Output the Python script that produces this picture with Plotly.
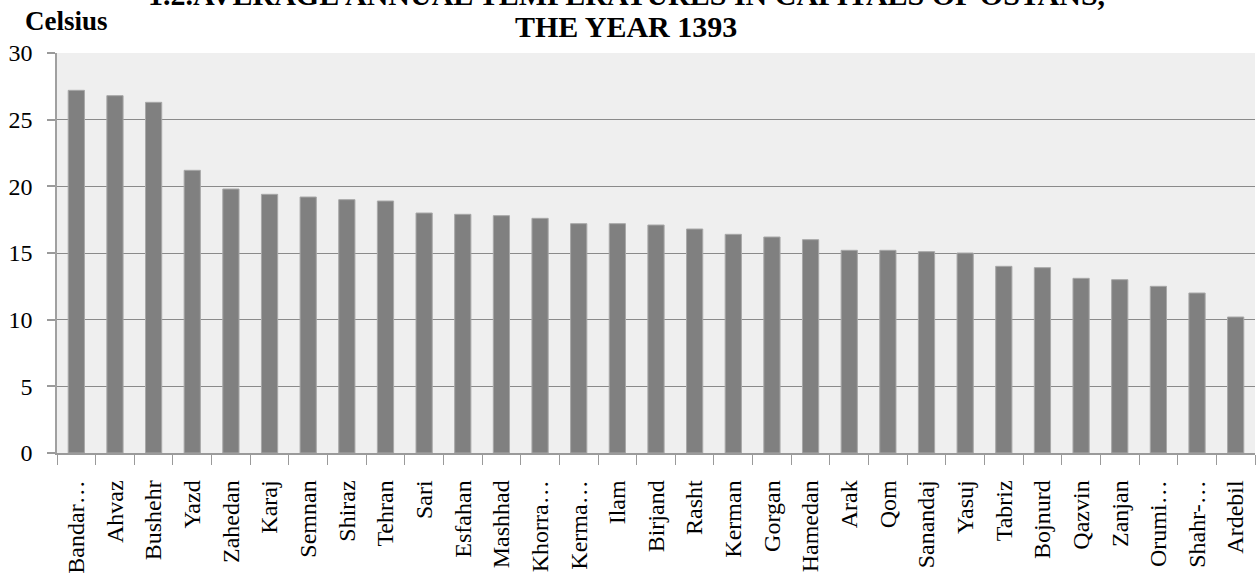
import plotly.graph_objects as go

cities = ["Bandar…", "Ahvaz", "Bushehr", "Yazd", "Zahedan", "Karaj", "Semnan", "Shiraz",
          "Tehran", "Sari", "Esfahan", "Mashhad", "Khorra…", "Kerma…", "Ilam", "Birjand",
          "Rasht", "Kerman", "Gorgan", "Hamedan", "Arak", "Qom", "Sanandaj", "Yasuj",
          "Tabriz", "Bojnurd", "Qazvin", "Zanjan", "Orumi…", "Shahr-…", "Ardebil"]
temps = [27.2, 26.8, 26.3, 21.2, 19.8, 19.4, 19.2, 19.0, 18.9, 18.0, 17.9, 17.8, 17.6,
         17.2, 17.2, 17.1, 16.8, 16.4, 16.2, 16.0, 15.2, 15.2, 15.1, 15.0, 14.0, 13.9,
         13.1, 13.0, 12.5, 12.0, 10.2]
y_ticks = [0, 5, 10, 15, 20, 25, 30]

title_line1 = "1.2.AVERAGE ANNUAL TEMPERATURES IN CAPITALS OF OSTANS,"
title_line2 = "THE YEAR 1393"
y_unit = "Celsius"

W, H = 1258, 574
L, R, T, B = 57, 3, 53, 121
pw, ph = W - L - R, H - T - B

def px_x(p):
    return (p - L) / pw

def px_y(p):
    return (H - B - p) / ph

serif = "Liberation Serif"

fig = go.Figure(go.Bar(
    x=cities, y=temps,
    marker=dict(color="#808080", line=dict(color="#a8a8a8", width=1)),
))

fig.update_layout(
    width=W, height=H,
    margin=dict(l=L, r=R, t=T, b=B, autoexpand=False),
    paper_bgcolor="white", plot_bgcolor="#efefef",
    bargap=0.58, showlegend=False,
    font=dict(family=serif, color="black"),
)
fig.update_xaxes(
    type="category", tickangle=-90, tickfont=dict(size=24, family=serif, color="black"),
    ticks="outside", tickson="boundaries", ticklen=10, tickcolor="#9a9a9a", tickwidth=1,
    showline=True, linecolor="#9a9a9a", linewidth=1.5, showgrid=False,
    ticklabelstandoff=16,
)
fig.update_yaxes(
    range=[0, 30], tickvals=y_ticks, tickfont=dict(size=24, family=serif, color="black"),
    ticks="outside", ticklen=8, tickcolor="#9a9a9a", tickwidth=1.5,
    showline=True, linecolor="#a0a0a0", linewidth=1.5,
    showgrid=True, gridcolor="#8a8a8a", gridwidth=1.4, zeroline=False,
    ticklabelstandoff=10,
)

fig.add_annotation(text=title_line1, xref="paper", yref="paper",
                   x=px_x(626), y=px_y(-6), xanchor="center", yanchor="middle",
                   showarrow=False, font=dict(size=30, family=serif, color="black", weight="bold"))
fig.add_annotation(text=title_line2, xref="paper", yref="paper",
                   x=px_x(626), y=px_y(26), xanchor="center", yanchor="middle",
                   showarrow=False, font=dict(size=30, family=serif, color="black", weight="bold"))
fig.add_annotation(text=y_unit, xref="paper", yref="paper",
                   x=px_x(23), y=px_y(21), xanchor="left", yanchor="middle",
                   showarrow=False, font=dict(size=27, family=serif, color="black", weight="bold"))

fig.write_html("out.html", config={"displayModeBar": False},
               post_script="document.body.style.margin='0';")
